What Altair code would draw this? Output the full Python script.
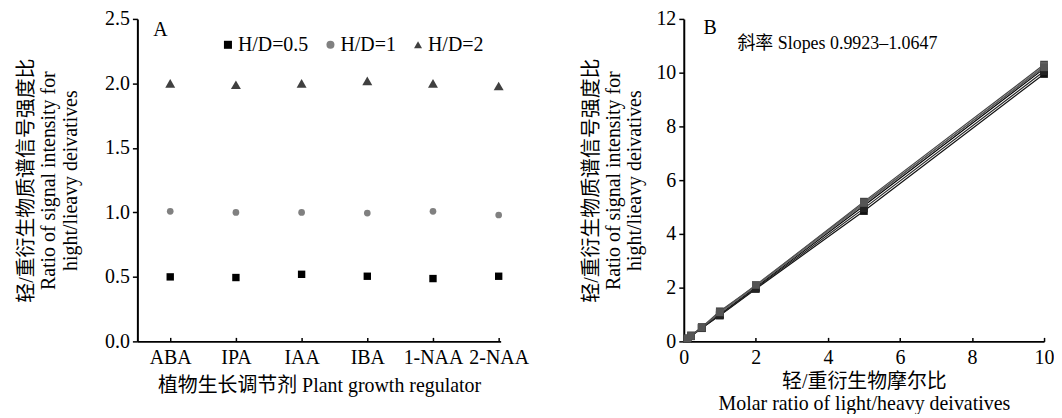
import altair as alt
import pandas as pd

FONT = "Liberation Serif, 'Noto Sans CJK SC', serif"

# ---------------- Panel A data ----------------
regulators = ["ABA", "IPA", "IAA", "IBA", "1-NAA", "2-NAA"]
hd_groups = ["H/D=0.5", "H/D=1", "H/D=2"]
ratio_hd_05 = [0.50, 0.495, 0.52, 0.505, 0.487, 0.505]
ratio_hd_1 = [1.008, 1.00, 1.00, 0.995, 1.008, 0.98]
ratio_hd_2 = [2.00, 1.99, 2.00, 2.02, 2.00, 1.98]
y_ticks_A = [0, 0.5, 1.0, 1.5, 2.0, 2.5]
marker_sizes_A = [55, 45, 100]

# ---------------- Panel B data ----------------
molar_ratio = [0.1, 0.2, 0.5, 1, 2, 5, 10]
series_B_names = ["ABA", "IPA", "IAA", "IBA", "1-NAA", "2-NAA"]
b_aba = [0.10, 0.21, 0.52, 1.00, 2.02, 5.05, 10.15]
b_ipa = [0.11, 0.22, 0.53, 1.12, 2.08, 5.20, 10.30]
b_iaa = [0.10, 0.20, 0.50, 0.96, 1.95, 4.85, 9.95]
b_iba = [0.10, 0.21, 0.51, 1.05, 2.05, 5.10, 10.25]
b_1naa = [0.09, 0.19, 0.49, 0.98, 1.98, 4.95, 10.05]
b_2naa = [0.10, 0.20, 0.51, 1.08, 2.10, 5.15, 10.20]
x_ticks_B = list(range(0, 11))
y_ticks_B = list(range(0, 13))

slope_text = "斜率 Slopes 0.9923–1.0647"

# ---------------- Build tables ----------------
rowsA = []
for g, sz, vals in zip(hd_groups, marker_sizes_A, [ratio_hd_05, ratio_hd_1, ratio_hd_2]):
    for i, (r, v) in enumerate(zip(regulators, vals)):
        rowsA.append({"idx": i + 1, "regulator": r, "group": g, "value": v, "sz": sz})
dfA = pd.DataFrame(rowsA)

rowsB = []
for name, vals in zip(series_B_names, [b_aba, b_ipa, b_iaa, b_iba, b_1naa, b_2naa]):
    for x, v in zip(molar_ratio, vals):
        rowsB.append({"series": name, "x": x, "y": v})
dfB = pd.DataFrame(rowsB)

label_expr_A = "[" + ",".join("'" + r + "'" for r in regulators) + "][datum.value - 1]"

xA = alt.X(
    "idx:Q",
    scale=alt.Scale(domain=[0.5, 6.03], nice=False, zero=False),
    axis=alt.Axis(
        values=list(range(1, 7)),
        labelExpr=label_expr_A,
        title="植物生长调节剂  Plant growth regulator",
        tickSize=alt.ExprRef("-4"),
        labelPadding=10,
        titlePadding=8,
        labelFlush=False,
    ),
)
yA = alt.Y(
    "value:Q",
    scale=alt.Scale(domain=[0, 2.5], nice=False),
    axis=alt.Axis(
        values=y_ticks_A,
        format=".1f",
        title=["轻/重衍生物质谱信号强度比", "Ratio of signal intensity for", "hight/lieavy deivatives"],
        titlePadding=24,
        tickSize=5,
        labelPadding=3,
        labelFlush=False,
    ),
)

legA = alt.Legend(orient="none", legendX=81, legendY=16, direction="horizontal",
                  title=None, labelFont=FONT, labelFontSize=20, labelColor="#000",
                  columnPadding=12, labelOffset=0, symbolSize=65)

pointsA = alt.Chart(dfA).mark_point(filled=True, opacity=1).encode(
    x=xA,
    y=yA,
    shape=alt.Shape("group:N", scale=alt.Scale(domain=hd_groups, range=["square", "circle", "triangle-up"]),
                    legend=legA),
    color=alt.Color("group:N", scale=alt.Scale(domain=hd_groups, range=["#000000", "#808080", "#404040"]),
                    legend=legA),
    size=alt.Size("sz:Q", scale=None),
)

labelA = alt.Chart(pd.DataFrame({"idx": [0.85], "value": [2.41], "t": ["A"]})).mark_text(
    font=FONT, fontSize=20, align="center", baseline="middle", color="#000"
).encode(x=alt.X("idx:Q"), y=alt.Y("value:Q"), text="t:N")

chartA = alt.layer(pointsA, labelA).properties(width=365, height=324)

# ---------------- Panel B ----------------
xB = alt.X(
    "x:Q",
    scale=alt.Scale(domain=[0, 10], nice=False),
    axis=alt.Axis(
        values=x_ticks_B,
        labelExpr="datum.value % 2 == 0 ? datum.label : ''",
        title=["轻/重衍生物摩尔比", "Molar ratio of light/heavy deivatives"],
        tickSize=alt.ExprRef("-4"),
        labelPadding=10,
        titlePadding=4,
        labelFlush=False,
    ),
)
yB = alt.Y(
    "y:Q",
    scale=alt.Scale(domain=[0, 12], nice=False),
    axis=alt.Axis(
        values=y_ticks_B,
        labelExpr="datum.value % 2 == 0 ? datum.label : ''",
        title=["轻/重衍生物质谱信号强度比", "Ratio of signal intensity for", "hight/lieavy deivatives"],
        titlePadding=11,
        tickSize=alt.ExprRef("datum.value % 2 == 0 ? 5 : -4"),
        labelPadding=3,
        labelFlush=False,
    ),
)

grays = ["#000000", "#444444", "#111111", "#666666", "#222222", "#555555"]
baseB = alt.Chart(dfB).encode(
    x=xB,
    y=yB,
    color=alt.Color("series:N", scale=alt.Scale(domain=series_B_names, range=grays), legend=None),
    detail="series:N",
)
linesB = baseB.mark_line(strokeWidth=1.2)
pointsB = baseB.mark_point(shape="square", filled=True, size=60, opacity=1)

textB = alt.Chart(pd.DataFrame({"x": [0.55], "y": [11.67], "t": ["B"]})).mark_text(
    font=FONT, fontSize=20, align="left", baseline="middle", color="#000"
).encode(x="x:Q", y="y:Q", text="t:N")
slopeB = alt.Chart(pd.DataFrame({"x": [1.49], "y": [11.08], "t": [slope_text]})).mark_text(
    font=FONT, fontSize=18, align="left", baseline="middle", color="#000"
).encode(x="x:Q", y="y:Q", text="t:N")

chartB = alt.layer(linesB, pointsB, textB, slopeB).properties(width=362, height=324)

chart = alt.hconcat(chartA, chartB, spacing=52).resolve_scale(
    color="independent", shape="independent", size="independent"
).resolve_legend(
    color="independent", shape="independent", size="independent"
).properties(
    background="white", padding={"left": 9, "top": 0, "right": 0, "bottom": 0}
).configure_view(
    stroke=None
).configure_axis(
    grid=False,
    domainColor="#000",
    domainWidth=2,
    tickColor="#000",
    tickWidth=1.5,
    labelFont=FONT,
    labelFontSize=20,
    labelColor="#000",
    titleFont=FONT,
    titleFontSize=20,
    titleFontWeight="normal",
    titleColor="#000",
    titleLineHeight=22,
)

chart.save("out.html", embed_options={"renderer": "svg", "actions": False})
